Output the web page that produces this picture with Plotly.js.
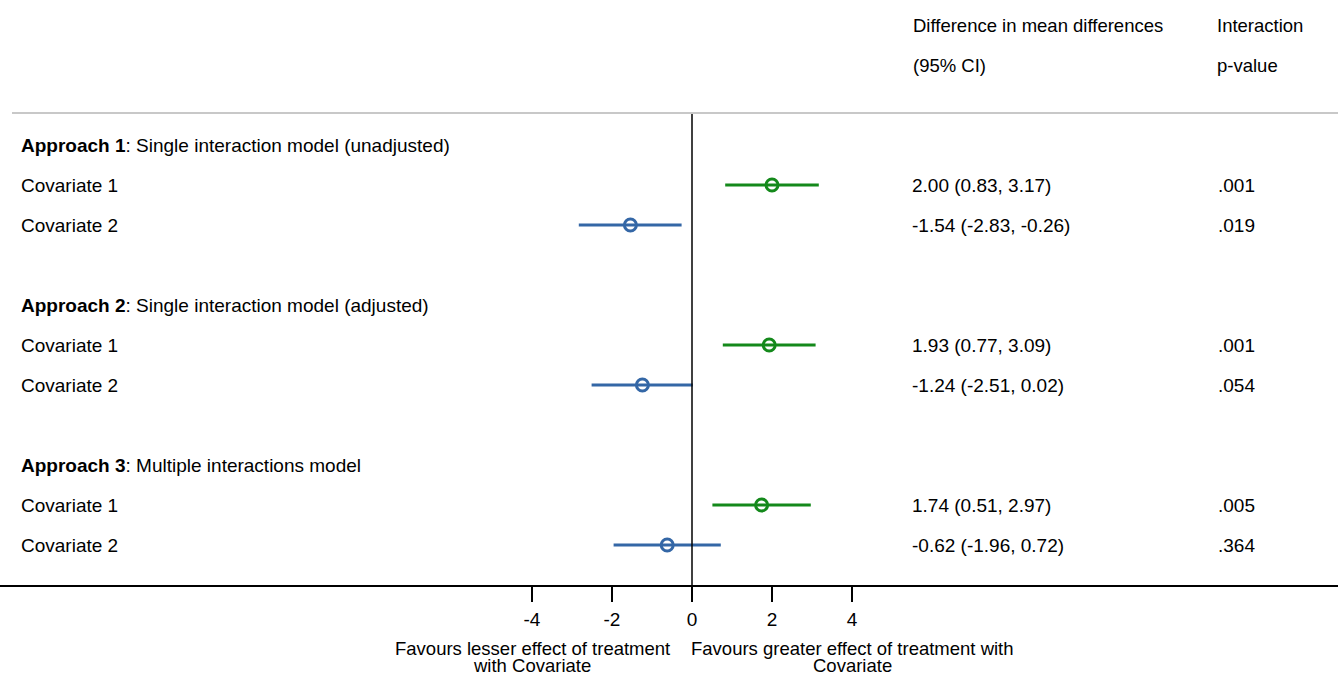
<!DOCTYPE html>
<html>
<head>
<meta charset="utf-8">
<script src="https://cdn.plot.ly/plotly-3.0.1.min.js"></script>
<style>html,body{margin:0;padding:0;background:#fff;}#chart{width:1338px;height:675px;}</style>
</head>
<body>
<div id="chart"></div>
<script>
const approaches = ["Approach 1", "Approach 2", "Approach 3"];
const approachDesc = ["Single interaction model (unadjusted)", "Single interaction model (adjusted)", "Multiple interactions model"];
const covariates = ["Covariate 1", "Covariate 2"];
const estimates = [[2.00, -1.54], [1.93, -1.24], [1.74, -0.62]];
const lowerCI = [[0.83, -2.83], [0.77, -2.51], [0.51, -1.96]];
const upperCI = [[3.17, -0.26], [3.09, 0.02], [2.97, 0.72]];
const pValues = [[".001", ".019"], [".001", ".054"], [".005", ".364"]];
const tickVals = [-4, -2, 0, 2, 4];
const tickText = ["-4", "-2", "0", "2", "4"];
const headerEst = ["Difference in mean differences", "(95% CI)"];
const headerP = ["Interaction", "p-value"];
const leftLabel = ["Favours lesser effect of treatment", "with Covariate"];
const rightLabel = ["Favours greater effect of treatment with", "Covariate"];

const W = 1338;
const colors = ["#14891b", "#3467a6"];
const FONT = "Liberation Sans, Arial, sans-serif";
const FS = 19;

// row positions (layout)
const headerRow = g => 1 + g * 4;
const covRow = (g, c) => 2 + g * 4 + c;

const traces = [];
covariates.forEach((cov, c) => {
  const xs = [], ys = [], em = [], ep = [];
  for (let g = 0; g < approaches.length; g++) {
    xs.push(estimates[g][c]);
    ys.push(covRow(g, c));
    em.push(estimates[g][c] - lowerCI[g][c]);
    ep.push(upperCI[g][c] - estimates[g][c]);
  }
  traces.push({
    type: "scatter", mode: "markers", x: xs, y: ys,
    marker: {symbol: "circle-open", size: 12, color: colors[c], line: {width: 3, color: colors[c]}},
    error_x: {type: "data", symmetric: false, array: ep, arrayminus: em, width: 0, thickness: 3, color: colors[c]},
    hoverinfo: "skip", showlegend: false
  });
});

const px = p => p / W;
const py = p => (585 - p) / 585;
const ann = [];
const txt = (x, y, t, opts) => Object.assign({xref: "paper", yref: "y", x: x, y: y, xanchor: "left", yanchor: "middle",
  text: t, showarrow: false, font: {family: FONT, size: FS, color: "#000"}}, opts || {});
approaches.forEach((a, g) => {
  ann.push(txt(px(19), headerRow(g), "<b>" + a + "</b>: " + approachDesc[g]));
  covariates.forEach((cov, c) => {
    const r = covRow(g, c);
    ann.push(txt(px(19), r, cov));
    ann.push(txt(px(910), r, estimates[g][c].toFixed(2) + " (" + lowerCI[g][c].toFixed(2) + ", " + upperCI[g][c].toFixed(2) + ")"));
    ann.push(txt(px(1216), r, pValues[g][c]));
  });
});
headerEst.forEach((t, i) => ann.push(txt(px(911), -2 + i, t, {font: {family: FONT, size: 18.5, color: "#000"}})));
headerP.forEach((t, i) => ann.push(txt(px(1215), -2 + i, t, {font: {family: FONT, size: 18.5, color: "#000"}})));
const bottomY = [648, 665];
leftLabel.forEach((t, i) => ann.push({xref: "x", yref: "paper", x: -4, y: py(bottomY[i]), xanchor: "center", yanchor: "middle",
  text: t, showarrow: false, borderpad: 0, font: {family: FONT, size: 18.5, color: "#000"}}));
rightLabel.forEach((t, i) => ann.push({xref: "x", yref: "paper", x: 4, y: py(bottomY[i]), xanchor: "center", yanchor: "middle",
  text: t, showarrow: false, borderpad: 0, font: {family: FONT, size: 18.5, color: "#000"}}));

const layout = {
  width: 1338, height: 675,
  margin: {l: 0, r: 0, t: 0, b: 90},
  paper_bgcolor: "#fff", plot_bgcolor: "#fff",
  xaxis: {range: [-692 / 40, (1338 - 692) / 40], tickvals: tickVals, ticktext: tickText,
    ticks: "outside", ticklen: 15, tickwidth: 1.5, tickcolor: "#000", ticklabelstandoff: 2,
    showline: true, linecolor: "#000", linewidth: 1.5, showgrid: false, zeroline: false,
    tickfont: {family: FONT, size: FS, color: "#000"}, fixedrange: true},
  yaxis: {range: [12, -2.625], showgrid: false, zeroline: false, showticklabels: false, showline: false, fixedrange: true},
  shapes: [
    {type: "line", xref: "x", yref: "y", x0: 0, x1: 0, y0: 0.2, y1: 12, line: {color: "#000", width: 1.5}},
    {type: "line", xref: "paper", yref: "y", x0: px(12), x1: 1, y0: 0.2, y1: 0.2, line: {color: "#c8c8c8", width: 2}}
  ],
  annotations: ann
};
Plotly.newPlot("chart", traces, layout, {displayModeBar: false, staticPlot: true});
</script>
</body>
</html>
